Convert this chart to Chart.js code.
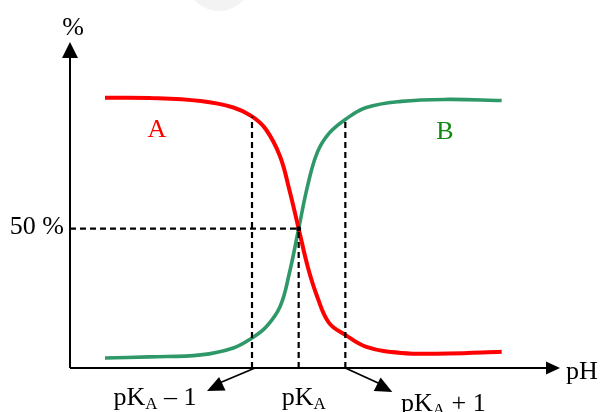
<!DOCTYPE html>
<html>
<head>
<meta charset="utf-8">
<script src="https://cdn.jsdelivr.net/npm/chart.js@4"></script>
<style>
  body { margin: 0; background: #fff; }
  #wrap { width: 600px; height: 412px; }
</style>
</head>
<body>
<div id="wrap"><canvas id="pkaChart" width="600" height="412"></canvas></div>
<script>
// pH の値（横軸）と各曲線の割合 (%)
const phValues = [0.85, 1.8, 2.9, 3.6, 4.0, 4.3, 4.6, 4.8, 5.0, 5.2, 5.4, 5.65, 6.0, 6.45, 7.2, 8.2, 9.35];
const acidA   = [97, 96.9, 95.8, 93.5, 90.3, 85.6, 76, 64, 50, 36, 25.5, 16.2, 11.9, 7.6, 5.4, 5.2, 5.8];
const baseB   = [3.6, 4, 4.7, 7.2, 10.8, 14.7, 22, 34, 50, 66, 77.4, 84.2, 89.2, 93.5, 95.7, 96.4, 96];

// 目印の位置
const pKa = 5;
const halfLevel = 50;
const markLeftTop = 90.3;  // pKa-1 の破線の上端 (A の曲線)
const markRightTop = 89.2; // pKa+1 の破線の上端 (B の曲線)
const tickLabels = [
    { main: 'pK', sub: 'A', rest: ' \u2013 1', at: pKa - 1 },
    { main: 'pK', sub: 'A', rest: '', at: pKa },
    { main: 'pK', sub: 'A', rest: ' + 1', at: pKa + 1 }
];

const SERIF = '"Liberation Serif", "DejaVu Serif", serif';
const FONT_SIZE = 26;

function toPoints(xs, ys) {
    return xs.map((x, i) => ({ x: x, y: ys[i] }));
}

function dashed(points) {
    return {
        data: points,
        borderColor: '#000',
        borderWidth: 2.2,
        borderDash: [6, 4],
        pointRadius: 0,
        fill: false
    };
}

function arrowHead(ctx, fromX, fromY, toX, toY, len, half) {
    const ang = Math.atan2(toY - fromY, toX - fromX);
    ctx.beginPath();
    ctx.moveTo(toX, toY);
    ctx.lineTo(toX - len * Math.cos(ang) + half * Math.sin(ang), toY - len * Math.sin(ang) - half * Math.cos(ang));
    ctx.lineTo(toX - len * Math.cos(ang) - half * Math.sin(ang), toY - len * Math.sin(ang) + half * Math.cos(ang));
    ctx.closePath();
    ctx.fill();
}

function drawPk(ctx, lab, cx, baseline) {
    ctx.font = FONT_SIZE + 'px ' + SERIF;
    const w1 = ctx.measureText(lab.main).width;
    const w3 = ctx.measureText(lab.rest).width;
    ctx.font = '17px ' + SERIF;
    const w2 = ctx.measureText(lab.sub).width;
    let x = cx - (w1 + w2 + w3) / 2;
    ctx.textAlign = 'left';
    ctx.font = FONT_SIZE + 'px ' + SERIF;
    ctx.fillText(lab.main, x, baseline);
    x += w1;
    ctx.font = '17px ' + SERIF;
    ctx.fillText(lab.sub, x, baseline + 4);
    x += w2;
    ctx.font = FONT_SIZE + 'px ' + SERIF;
    ctx.fillText(lab.rest, x, baseline);
}

// 軸・矢印・文字を描くプラグイン
const decorations = {
    id: 'decorations',
    afterDraw(chart) {
        const ctx = chart.ctx;
        const xs = chart.scales.x;
        const ys = chart.scales.y;
        const x0 = xs.getPixelForValue(xs.min);
        const y0 = ys.getPixelForValue(0);
        const xEnd = xs.getPixelForValue(xs.max);
        const yEnd = ys.getPixelForValue(ys.max);

        ctx.save();
        // 上部の薄い透かし
        ctx.fillStyle = '#f3f3f3';
        ctx.beginPath();
        ctx.arc(219, -22, 33, 0, Math.PI);
        ctx.fill();

        ctx.strokeStyle = '#000';
        ctx.fillStyle = '#000';
        ctx.lineWidth = 2;
        ctx.beginPath();
        ctx.moveTo(x0, y0);
        ctx.lineTo(x0, yEnd + 12);
        ctx.moveTo(x0, y0);
        ctx.lineTo(xEnd - 12, y0);
        ctx.stroke();
        arrowHead(ctx, x0, y0, x0, yEnd, 16, 8);
        arrowHead(ctx, x0, y0, xEnd, y0, 14, 6.5);

        // pKa±1 の斜め矢印
        const pl = xs.getPixelForValue(pKa - 1);
        const pr = xs.getPixelForValue(pKa + 1);
        ctx.lineWidth = 1.8;
        ctx.beginPath();
        ctx.moveTo(pl + 3, y0);
        ctx.lineTo(pl - 35, y0 + 16);
        ctx.moveTo(pr, y0);
        ctx.lineTo(pr + 35, y0 + 16);
        ctx.stroke();
        arrowHead(ctx, pl + 3, y0, pl - 45, y0 + 23, 17, 7.5);
        arrowHead(ctx, pr, y0, pr + 47, y0 + 24, 17, 7.5);

        // 交点の点
        ctx.beginPath();
        ctx.arc(xs.getPixelForValue(pKa), ys.getPixelForValue(halfLevel), 2.5, 0, Math.PI * 2);
        ctx.fill();

        // 文字
        ctx.textBaseline = 'alphabetic';
        ctx.font = FONT_SIZE + 'px ' + SERIF;
        ctx.textAlign = 'center';
        ctx.fillText('%', x0 + 3, 35);
        ctx.textAlign = 'left';
        ctx.fillText('pH', xEnd + 6, 379);
        ctx.textAlign = 'right';
        ctx.fillText('50 %', x0 - 6, ys.getPixelForValue(halfLevel) + 5);

        ctx.textAlign = 'center';
        ctx.fillStyle = '#ff0000';
        ctx.fillText('A', 157, 137);
        ctx.fillStyle = '#118a11';
        ctx.fillText('B', 445, 139);

        ctx.fillStyle = '#000';
        drawPk(ctx, tickLabels[0], xs.getPixelForValue(tickLabels[0].at) - 97, 405);
        drawPk(ctx, tickLabels[1], xs.getPixelForValue(tickLabels[1].at) + 5, 405);
        drawPk(ctx, tickLabels[2], xs.getPixelForValue(tickLabels[2].at) + 98, 411);
        ctx.restore();
    }
};

new Chart(document.getElementById('pkaChart').getContext('2d'), {
    type: 'line',
    data: {
        datasets: [
            dashed([{ x: pKa - 1, y: 0 }, { x: pKa - 1, y: markLeftTop }]),
            dashed([{ x: pKa, y: 0 }, { x: pKa, y: halfLevel }]),
            dashed([{ x: pKa + 1, y: 0 }, { x: pKa + 1, y: markRightTop }]),
            dashed([{ x: 0.1, y: halfLevel }, { x: pKa, y: halfLevel }]),
            {
                label: 'A',
                data: toPoints(phValues, acidA),
                borderColor: '#ff0000',
                borderWidth: 4,
                pointRadius: 0,
                tension: 0.4,
                fill: false
            },
            {
                label: 'B',
                data: toPoints(phValues, baseB),
                borderColor: '#2f9868',
                borderWidth: 3.6,
                pointRadius: 0,
                tension: 0.4,
                fill: false
            }
        ]
    },
    options: {
        responsive: false,
        animation: false,
        layout: { padding: { left: 70, top: 42, right: 40, bottom: 44 } },
        plugins: { legend: { display: false }, tooltip: { enabled: false } },
        scales: {
            x: { type: 'linear', min: 0.1, max: 10.6, display: false },
            y: { min: 0, max: 117, display: false }
        }
    },
    plugins: [decorations]
});
</script>
</body>
</html>
